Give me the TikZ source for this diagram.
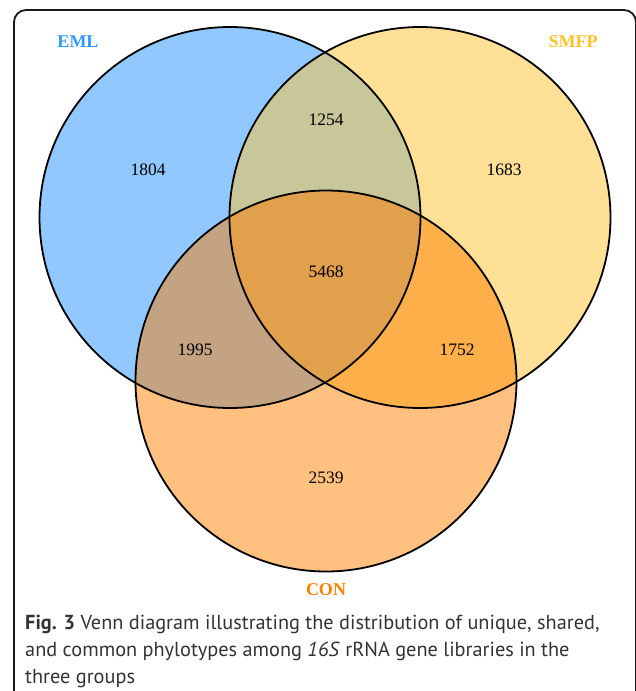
\documentclass[tikz,border=0pt]{standalone}
\usepackage{fontspec}
\setmainfont{Liberation Serif}
\newfontfamily\capfont{PT Sans}
\definecolor{cEML}{HTML}{90C8FF}
\definecolor{cSMFP}{HTML}{FFE096}
\definecolor{cCON}{HTML}{FFC080}
\definecolor{cES}{HTML}{C8C799}
\definecolor{cEC}{HTML}{C4A383}
\definecolor{cSC}{HTML}{FFB04A}
\definecolor{cESC}{HTML}{E1A04B}
\definecolor{tEML}{HTML}{3399FF}
\definecolor{tSMFP}{HTML}{FFC125}
\definecolor{tCON}{HTML}{FF8000}
\definecolor{capgray}{HTML}{333333}
\tikzset{
  num/.style={font=\fontsize{17.5}{20}\selectfont, text=black},
  setlabel/.style={font=\fontsize{18}{21}\selectfont\bfseries},
  ring/.style={draw=black, line width=1.8pt},
  capline/.style={anchor=base west, inner sep=0pt, text=capgray, font=\capfont\fontsize{20.3}{24}\selectfont}
}
\begin{document}
\begin{tikzpicture}[x=1pt,y=-1pt]
\useasboundingbox (0,0) rectangle (635,691);
\fill[white] (0,0) rectangle (635,691);
\def\R{190.5}
\coordinate (E) at (230,217.5);
\coordinate (S) at (420,217.5);
\coordinate (C) at (326,381);
% frame
\draw[line width=1.8pt, color=black!90, rounded corners=12pt] (14,700) -- (14,10) -- (636,10) -- (636,700);
% base fills
\fill[cEML] (E) circle (\R);
\fill[cSMFP] (S) circle (\R);
\fill[cCON] (C) circle (\R);
\begin{scope}\clip (E) circle (\R); \fill[cES] (S) circle (\R); \end{scope}
\begin{scope}\clip (E) circle (\R); \fill[cEC] (C) circle (\R); \end{scope}
\begin{scope}\clip (S) circle (\R); \fill[cSC] (C) circle (\R); \end{scope}
\begin{scope}\clip (E) circle (\R); \clip (S) circle (\R); \fill[cESC] (C) circle (\R); \end{scope}
% outlines
\draw[ring] (E) circle (\R);
\draw[ring] (S) circle (\R);
\draw[ring] (C) circle (\R);
% set labels
\node[setlabel, text=tEML] (lEML) at (78,42) {EML};
\node[setlabel, text=tSMFP] (lSMFP) at (573,42) {SMFP};
\node[setlabel, text=tCON] (lCON) at (326,590) {CON};
% numbers
\node[num] (n1804) at (148,170) {1804};
\node[num] (n1254) at (326,120) {1254};
\node[num] (n1683) at (504,170) {1683};
\node[num] (n5468) at (326,272) {5468};
\node[num] (n1995) at (195,350) {1995};
\node[num] (n1752) at (457,350) {1752};
\node[num] (n2539) at (326,478) {2539};
% caption
\node[capline] (cap1) at (25,629) {\textbf{Fig. 3} Venn diagram illustrating the distribution of unique, shared,};
\node[capline] (cap2) at (25,656) {and common phylotypes among \textit{16S} rRNA gene libraries in the};
\node[capline] (cap3) at (25,683) {three groups};
\end{tikzpicture}
\end{document}
